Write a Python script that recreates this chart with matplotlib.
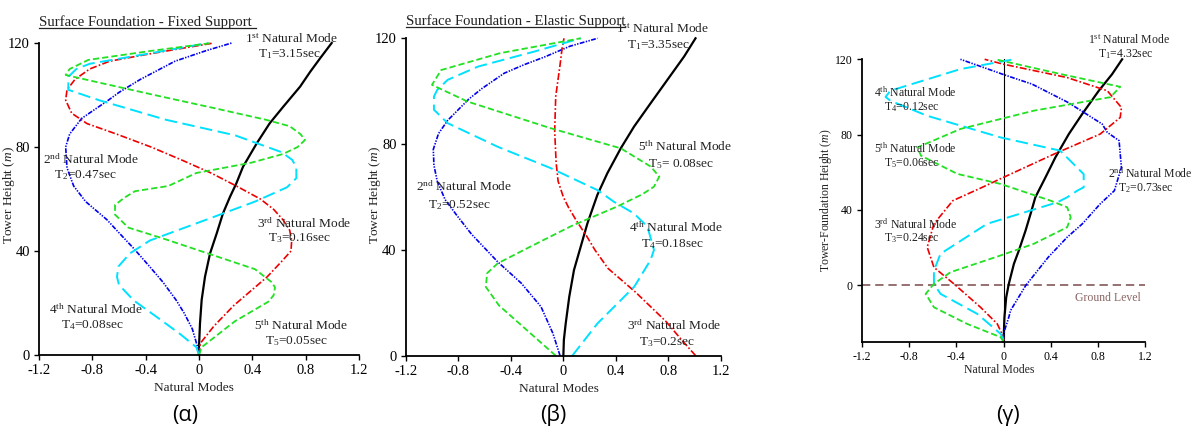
import matplotlib
matplotlib.use('Agg')
import matplotlib.pyplot as plt
from matplotlib.lines import Line2D

plt.rcParams['font.family'] = ['Liberation Serif', 'DejaVu Serif']
plt.rcParams['mathtext.fontset'] = 'custom'
plt.rcParams['mathtext.rm'] = 'Liberation Serif'
plt.rcParams['mathtext.it'] = 'Liberation Serif:italic'
plt.rcParams['lines.scale_dashes'] = False

# ---------------- data: panel (α) fixed support ----------------
a1_y = [0, 3.2, 12.2, 21.2, 30.1, 39.1, 46.8, 54.5, 60.9, 66, 72.4, 81.4, 89.1, 95.5, 103.2,
        109, 114.1, 120]
a1_x = [0, 0.0, 0.0075, 0.02, 0.045, 0.083, 0.133, 0.18, 0.233, 0.28, 0.33, 0.433, 0.53, 0.632,
        0.758, 0.835, 0.908, 0.995]
a2_y = [0, 3, 10, 16, 21, 28, 34, 41, 47, 52, 59, 65, 72, 80, 85, 91, 98, 101, 106, 113, 117, 120]
a2_x = [0, -0.01, -0.05, -0.11, -0.17, -0.27, -0.37, -0.49, -0.6, -0.69, -0.85, -0.94, -0.99,
        -1.0, -0.97, -0.88, -0.68, -0.6, -0.44, -0.18, 0.05, 0.245]
a3_y = [0, 4.5, 11, 19, 30, 36, 40, 44, 48, 52, 56, 60, 65, 70, 75, 80, 85, 89, 93, 98, 102,
        106, 110, 113, 116, 120]
a3_x = [0, 0.01, 0.11, 0.26, 0.51, 0.62, 0.69, 0.695, 0.68, 0.63, 0.56, 0.46, 0.28, 0.09, -0.13,
        -0.36, -0.62, -0.84, -0.955, -1.0, -0.99, -0.93, -0.82, -0.67, -0.35, 0.11]
a4_y = [0, 3, 8, 14, 21, 27, 30, 34, 39, 44, 51, 59, 64.5, 68, 72, 75, 78, 84.5, 90.5, 98, 102,
        107, 110, 112, 116, 120]
a4_x = [0, -0.02, -0.14, -0.3, -0.49, -0.6, -0.615, -0.605, -0.52, -0.37, 0.0, 0.42, 0.66, 0.73,
        0.73, 0.7, 0.62, 0.27, -0.25, -0.75, -0.98, -0.98, -0.92, -0.82, -0.37, 0.07]
a5_y = [0, 3, 13, 20.5, 23, 26, 28, 33, 39, 45, 49, 54, 57.7, 60.5, 63, 65, 70, 74, 77.3, 80,
        82.7, 85, 88, 90.5, 95, 100, 104.9, 107.7, 110, 113.5, 117, 120]
a5_x = [0, 0.02, 0.27, 0.52, 0.56, 0.57, 0.545, 0.42, 0.07, -0.28, -0.53, -0.63, -0.63, -0.56,
        -0.48, -0.23, -0.02, 0.395, 0.63, 0.74, 0.795, 0.76, 0.68, 0.5, 0.11, -0.335, -0.76, -1.0,
        -0.97, -0.83, -0.355, 0.095]

# ---------------- data: panel (β) elastic support ----------------
b1_y = [0, 6, 12.2, 22.3, 32.4, 41.2, 50, 60.8, 69, 78.4, 86.6, 95.5, 104.3, 113.1, 120]
b1_x = [0, 0.004, 0.018, 0.045, 0.081, 0.132, 0.183, 0.259, 0.335, 0.437, 0.538, 0.665, 0.792,
        0.919, 1.006]
b2_y = [0, 8.5, 18.5, 27.4, 35.5, 46, 53, 59, 66, 72, 78, 84, 89, 93, 97, 101, 106.8, 110, 113,
        117, 120]
b2_x = [-0.025, -0.08, -0.17, -0.32, -0.5, -0.7, -0.81, -0.9, -0.96, -0.985, -0.99, -0.95, -0.88,
        -0.8, -0.72, -0.62, -0.45, -0.3, -0.14, 0.05, 0.26]
b3_y = [0, 6, 13, 24, 33, 40, 45, 51, 56, 60, 66, 73, 85, 98, 110, 116, 120]
b3_x = [1.007, 0.9, 0.78, 0.55, 0.34, 0.24, 0.18, 0.1, 0.04, 0.0, -0.04, -0.055, -0.066, -0.058,
        -0.025, -0.01, 0.005]
b4_y = [0, 12.2, 26.1, 36.2, 40, 48.8, 53.8, 58.2, 62.6, 71, 79, 87.9, 93, 98, 100.5, 104.3,
        109.3, 115, 120]
b4_x = [0.068, 0.26, 0.54, 0.664, 0.69, 0.64, 0.537, 0.385, 0.26, -0.1, -0.5, -0.88, -0.985,
        -0.985, -0.96, -0.88, -0.65, -0.22, 0.132]
b5_y = [0, 8, 19, 26, 31.2, 34.9, 41.5, 49, 56.4, 61, 63.9, 67.7, 71.5, 78.4, 86, 96.1, 102.4,
        108, 114.4, 120]
b5_x = [-0.058, -0.24, -0.49, -0.59, -0.58, -0.5, -0.24, 0.06, 0.41, 0.6, 0.69, 0.73, 0.665,
        0.437, -0.096, -0.73, -1.0, -0.93, -0.48, 0.132]

# ---------------- data: panel (γ) tower-foundation ----------------
g1_y = [-30, -17, -6.4, 0.7, 11.3, 18.4, 29, 38, 46.7, 57.3, 67.9, 80.3, 90.9, 103.3, 112.1, 120]
g1_x = [0, 0.008, 0.023, 0.045, 0.088, 0.13, 0.187, 0.23, 0.27, 0.356, 0.44, 0.554, 0.667, 0.808,
        0.921, 1.006]
g2_y = [-30, -25.8, -17, -13.4, 0, 14.9, 25.5, 32.5, 43.2, 50.2, 62.6, 69.7, 76.8, 81.2, 85.6,
        97, 106.8, 111.9, 120]
g2_x = [0, 0.0, 0.045, 0.06, 0.19, 0.38, 0.54, 0.667, 0.82, 0.94, 1.0, 0.99, 0.98, 0.88, 0.837,
        0.55, 0.243, 0.0, -0.365]
g3_y = [-30, -27.6, -20.5, -11.7, 0.7, 9.5, 20.2, 32.6, 44.9, 52, 57.3, 69.7, 80.3, 89.1, 94.4,
        103.3, 110.3, 117.4, 120]
g3_x = [0, 0, -0.053, -0.195, -0.42, -0.59, -0.647, -0.59, -0.43, -0.18, 0.0, 0.43, 0.82, 0.99,
        1.0, 0.88, 0.54, 0.0, -0.16]
g4_y = [-29, -25.8, -15.2, -4.6, 0.7, 7.8, 16.7, 32.6, 44, 46.7, 50.2, 52, 59, 71.5, 78.5, 90,
        98, 100, 103.3, 114.8, 120]
g4_x = [0, -0.025, -0.223, -0.534, -0.59, -0.59, -0.534, -0.14, 0.455, 0.54, 0.625, 0.68, 0.68,
        0.48, -0.025, -0.647, -0.96, -1.0, -0.96, -0.365, 0.087]
g5_y = [-30, -27.6, -20.5, -11.7, -4.6, 0.7, 6.9, 15.8, 22, 30.8, 36.1, 41.4, 44.9, 53.8, 59.1,
        68.8, 73.2, 83, 92.7, 99.9, 105.4, 112.2, 120]
g5_x = [0, -0.025, -0.31, -0.59, -0.66, -0.59, -0.45, -0.025, 0.257, 0.54, 0.57, 0.54, 0.4,
        -0.025, -0.39, -0.70, -0.73, -0.365, 0.257, 0.907, 0.99, 0.483, -0.068]

x_ticks = [-1.2, -0.8, -0.4, 0, 0.4, 0.8, 1.2]
x_tick_labels = ['-1.2', '-0.8', '-0.4', '0', '0.4', '0.8', '1.2']
y_ticks = [0, 40, 80, 120]
y_tick_labels = ['0', '40', '80', '120']

periods_a = ['3.15', '0.47', '0.16', '0.08', '0.05']
periods_b = ['3.35', '0.52', '0.2', '0.18', '0.08']
periods_g = ['4.32', '0.73', '0.24', '0.12', '0.06']

# ---------------- styles ----------------
styles = [
    dict(color='black', lw=1.6, ls='-'),
    dict(color='#0000ee', lw=1.2, ls=(0, (3.5, 1.0, 1.0, 1.0, 1.0, 1.0))),
    dict(color='#ee0000', lw=1.2, ls=(0, (5, 1.6, 1.2, 1.6))),
    dict(color='#00e0ff', lw=1.4, ls=(0, (9, 4))),
    dict(color='#22e022', lw=1.3, ls=(0, (4.5, 2.2))),
]

W, H = 1195, 430
fig = plt.figure(figsize=(W / 100, H / 100), dpi=100)


def px_axes(l, t, r, b):
    return fig.add_axes([l / W, 1 - b / H, (r - l) / W, (b - t) / H])


def ftext(x, y, s, **kw):
    return fig.text(x / W, 1 - y / H, s, **kw)


def setup(ax, ymin, fs):
    ax.set_xlim(-1.2, 1.2)
    ax.set_ylim(ymin, 120)
    for s in ['top', 'right']:
        ax.spines[s].set_visible(False)
    for s in ['left', 'bottom']:
        ax.spines[s].set_linewidth(1.3)
    ax.set_xticks(x_ticks)
    ax.set_xticklabels(x_tick_labels)
    ax.set_yticks(y_ticks)
    ax.set_yticklabels(y_tick_labels)
    ax.tick_params(direction='out', length=3.6, width=1.0, labelsize=fs, pad=3)
    ax.patch.set_alpha(0)


def draw_modes(ax, xs, ys):
    for x, y, st in zip(xs, ys, styles):
        ax.plot(x, y, clip_on=False, **st)


ordn = ['st', 'nd', 'rd', 'th', 'th']


def mode_label(n, T, x1, y1, x2, y2, fs, sep='='):
    ftext(x1, y1, r'%d$^{\mathrm{%s}}$ Natural Mode' % (n, ordn[n - 1]), ha='center',
          va='baseline', fontsize=fs, color='#222222')
    ftext(x2, y2, r'T$_{%d}$%s%ssec' % (n, sep, T), ha='center', va='baseline', fontsize=fs,
          color='#222222')


# ---------------- panel α ----------------
axa = px_axes(39, 43, 359, 355)
setup(axa, 0, 10.5)
draw_modes(axa, [a1_x, a2_x, a3_x, a4_x, a5_x], [a1_y, a2_y, a3_y, a4_y, a5_y])
mode_label(1, periods_a[0], 291.5, 42.8, 289, 57.5, 9.6)
mode_label(2, periods_a[1], 90.8, 164.5, 85, 177.8, 9.6)
mode_label(3, periods_a[2], 304, 228.5, 299.3, 241.5, 9.6)
mode_label(4, periods_a[3], 95.5, 313.5, 92.5, 328.5, 9.6)
mode_label(5, periods_a[4], 300.5, 329.5, 296.3, 344.5, 9.6)
ftext(194, 388, 'Natural Modes', ha='center', va='center', fontsize=9.6, color='#222222')
ftext(9, 195, 'Tower Height ($m$)', ha='center', va='center', rotation=90, fontsize=9.6,
      color='#222222')

# ---------------- panel β ----------------
axb = px_axes(405.7, 38.3, 721, 355.7)
setup(axb, 0, 10.5)
draw_modes(axb, [b1_x, b2_x, b3_x, b4_x, b5_x], [b1_y, b2_y, b3_y, b4_y, b5_y])
mode_label(1, periods_b[0], 662.5, 32.8, 658.8, 47.8, 9.6)
mode_label(5, periods_b[4], 684.7, 151.2, 681, 166.8, 9.6, sep='= ')
mode_label(2, periods_b[1], 464.3, 191.2, 459, 207.8, 9.6)
mode_label(4, periods_b[3], 676, 232.2, 672.5, 247.2, 9.6)
mode_label(3, periods_b[2], 674.7, 330.5, 666.7, 345.5, 9.6)
ftext(558.5, 389, 'Natural Modes', ha='center', va='center', fontsize=9.6, color='#222222')
ftext(375, 195, 'Tower Height ($m$)', ha='center', va='center', rotation=90, fontsize=9.6,
      color='#222222')

# ---------------- panel γ ----------------
axg = px_axes(862, 59.3, 1145, 341.7)
setup(axg, -30, 8.5)
axg.axvline(0, color='black', lw=0.8, zorder=1)
axg.axhline(0, color='#8c6464', lw=1.3, ls=(0, (6, 3.5)), zorder=1)
draw_modes(axg, [g1_x, g2_x, g3_x, g4_x, g5_x], [g1_y, g2_y, g3_y, g4_y, g5_y])
mode_label(1, periods_g[0], 1128.8, 43.9, 1125.5, 57.2, 8.5)
mode_label(4, periods_g[3], 915, 97.2, 912, 110.6, 8.5)
mode_label(5, periods_g[4], 915, 152.9, 912, 166.2, 8.5)
mode_label(2, periods_g[1], 1150, 177.9, 1145.8, 191.6, 8.5)
mode_label(3, periods_g[2], 915.5, 228.9, 912, 241.6, 8.5)
ftext(1107.8, 300.6, 'Ground Level', ha='center', va='baseline', fontsize=8.5, color='#8c6464')
ftext(999.3, 370, 'Natural Modes', ha='center', va='center', fontsize=8.5, color='#222222')
ftext(826, 200, 'Tower-Foundation Height ($m$)', ha='center', va='center', rotation=90,
      fontsize=8.5, color='#222222')

# ---------------- titles (underlined) ----------------
t1 = ftext(39, 26, 'Surface Foundation - Fixed Support ', ha='left', va='baseline',
           fontsize=10.6, color='#222222')
t2 = ftext(405.7, 25, 'Surface Foundation - Elastic Support', ha='left', va='baseline',
           fontsize=10.6, color='#222222')
fig.canvas.draw()
r = fig.canvas.get_renderer()
for t, yb in [(t1, 27.6), (t2, 26.6)]:
    bb = t.get_window_extent(renderer=r)
    fig.add_artist(Line2D([bb.x0 / W, bb.x1 / W], [1 - yb / H, 1 - yb / H], color='#222222',
                          lw=0.9, transform=fig.transFigure))

# ---------------- panel letters ----------------
for x, s in [(185, '(α)'), (553, '(β)'), (1007.5, '(γ)')]:
    ftext(x, 415, s, ha='center', va='center', fontsize=15.5,
          family=['Open Sans', 'DejaVu Sans'], color='black')

fig.savefig('out.png', dpi=100)
